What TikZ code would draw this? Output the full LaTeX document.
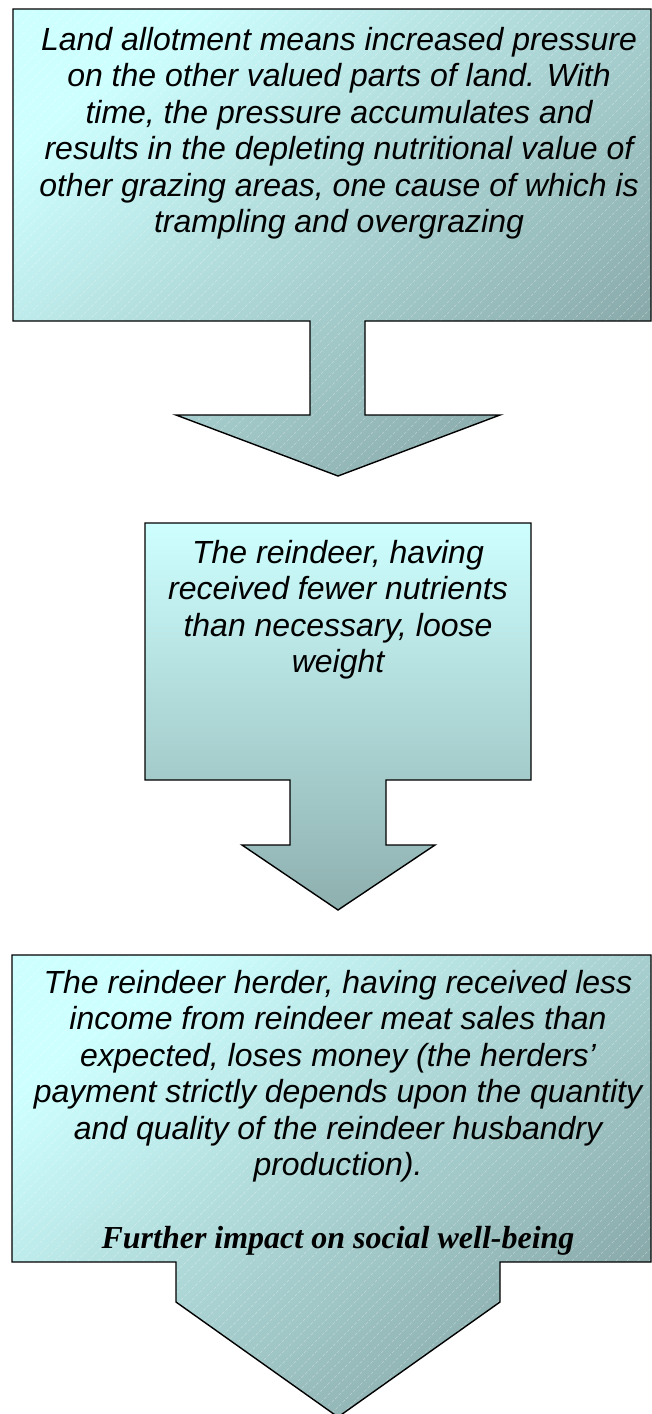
\documentclass[tikz,border=0pt]{standalone}
\usepackage{fontspec}
\setmainfont{Liberation Sans}
\newfontfamily\timesfont{Liberation Serif}
\definecolor{cLight}{RGB}{206,255,255}
\definecolor{cDark}{RGB}{136,168,168}
\definecolor{cDarkB}{RGB}{142,176,175}
\tikzset{
  calloutborder/.style={draw=black, line width=1.4pt, line join=miter},
  hatchline/.style={white, opacity=0.35, line width=0.6pt, dash pattern=on 3pt off 2pt},
  txt/.style={align=center, inner sep=0pt, anchor=north, text=black,
    font=\fontsize{32}{36.5}\selectfont\itshape}
}
\begin{document}
\begin{tikzpicture}[x=1pt,y=-1pt]
\useasboundingbox (0,0) rectangle (652,1414);
% ---------- shape 1 ----------
\def\shapeA{(13,9) -- (651,9) -- (651,321) -- (365,321) -- (365,415) -- (500,415) -- (338,476) -- (176,415) -- (310,415) -- (310,321) -- (13,321) -- cycle}
\shade[top color=cLight, bottom color=cDark, shading angle=40] \shapeA;
\begin{scope}
  \clip \shapeA;
  \foreach \i in {-500,-489,...,680} \draw[hatchline] (\i,480) -- ({\i+480},0);
\end{scope}
\draw[calloutborder] \shapeA;
\node[txt] (t1) at (339,27) {Land allotment means increased pressure\\on the other valued parts of land. With\\time, the pressure accumulates and\\results in the depleting nutritional value of\\other grazing areas, one cause of which is\\trampling and overgrazing};
% ---------- shape 2 ----------
\def\shapeB{(145,523) -- (531,523) -- (531,780) -- (386,780) -- (386,845) -- (435,845) -- (338,910) -- (242,845) -- (290,845) -- (290,780) -- (145,780) -- cycle}
\shade[top color=cLight, bottom color=cDarkB] \shapeB;
\draw[calloutborder] \shapeB;
\node[txt] (t2) at (338,540) {The reindeer, having\\received fewer nutrients\\than necessary, loose\\weight};
% ---------- shape 3 ----------
\def\shapeC{(12,955) -- (651,955) -- (651,1262) -- (500,1262) -- (500,1302) -- (338,1417) -- (176,1302) -- (176,1262) -- (12,1262) -- cycle}
\shade[top color=cLight, bottom color=cDark, shading angle=40] \shapeC;
\begin{scope}
  \clip \shapeC;
  \foreach \i in {-500,-489,...,680} \draw[hatchline] (\i,1420) -- ({\i+470},950);
\end{scope}
\draw[calloutborder] \shapeC;
\node[txt] (t3) at (338,970) {The reindeer herder, having received less\\income from reindeer meat sales than\\expected, loses money (the herders’\\payment strictly depends upon the quantity\\and quality of the reindeer husbandry\\production).\\[36.5pt]{\timesfont\bfseries\itshape Further impact on social well-being}};
\end{tikzpicture}
\end{document}
